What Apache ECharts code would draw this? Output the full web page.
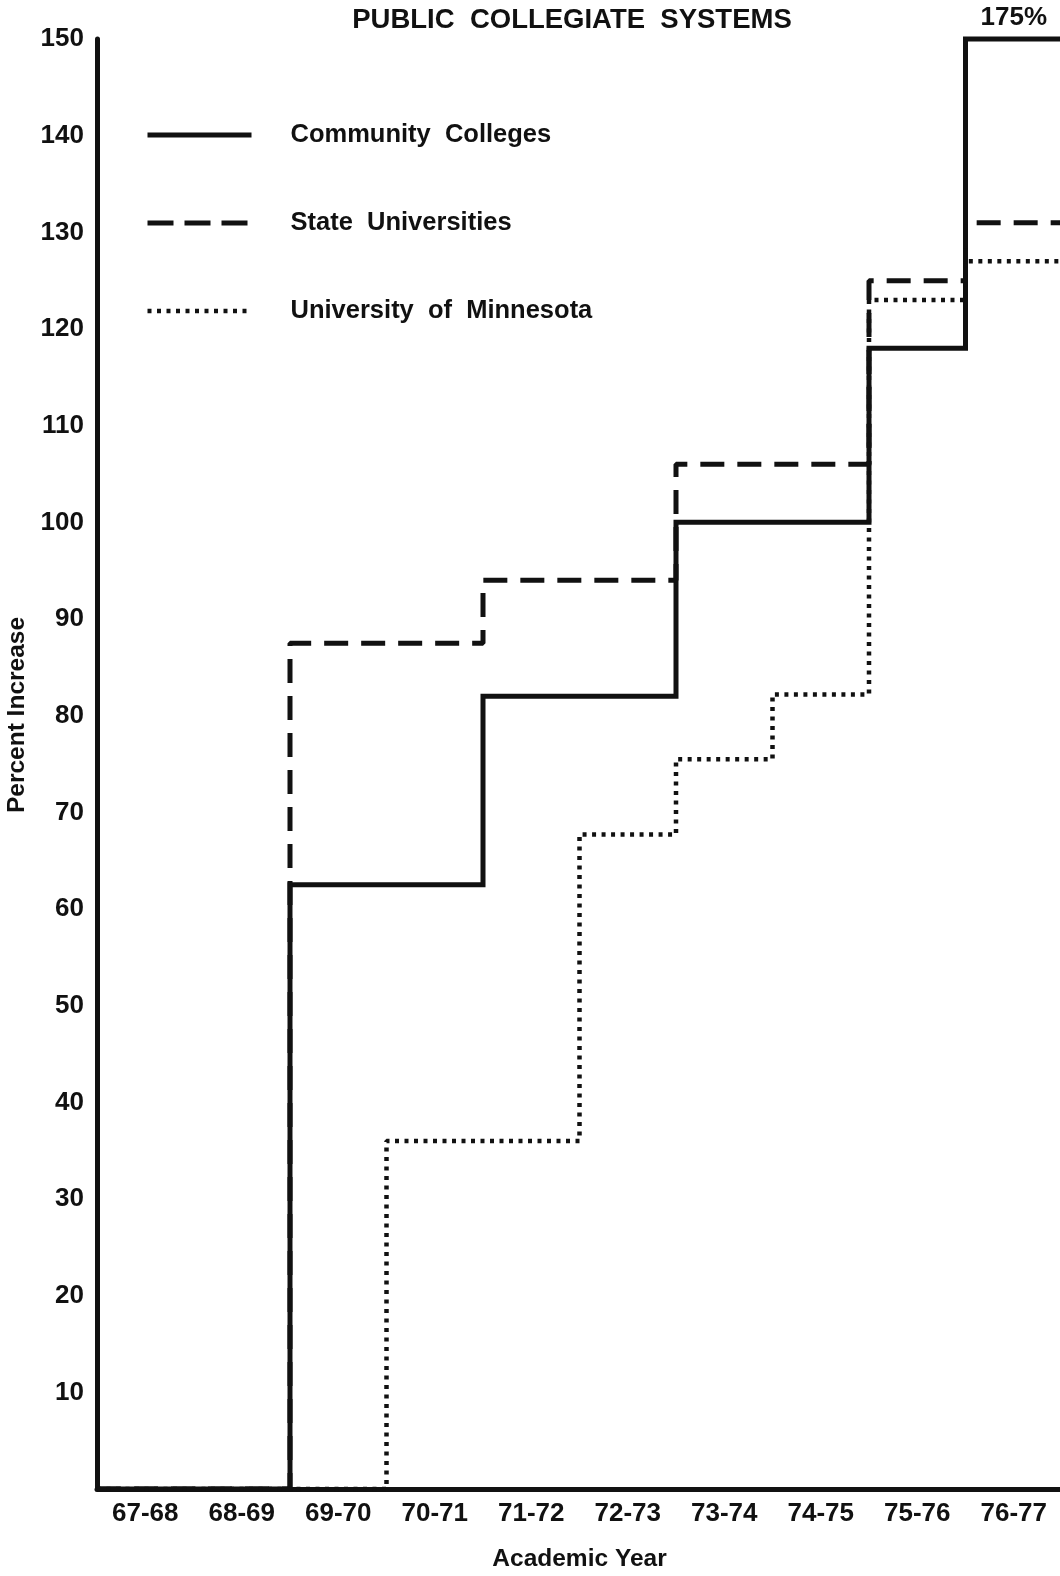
<!DOCTYPE html>
<html>
<head>
<meta charset="utf-8">
<script src="https://cdn.jsdelivr.net/npm/echarts@6/dist/echarts.min.js"></script>
<style>
  html, body { margin: 0; padding: 0; background: #fff; }
  #chart { width: 1060px; height: 1576px; }
</style>
</head>
<body>
<div id="chart"></div>
<script>
  // academic years on the x axis
  var years = ['67-68', '68-69', '69-70', '70-71', '71-72', '72-73', '73-74', '74-75', '75-76', '76-77'];
  // percent increase per year
  var communityColleges = [0, 0, 62.5, 62.5, 82, 82, 100, 100, 118, 175];
  var stateUniversities = [0, 0, 87.5, 87.5, 94, 94, 106, 106, 125, 131];
  var univMinnesota = [0, 0, 0, 36, 36, 67.7, 75.5, 82.2, 123, 127];
  var yTicks = [10, 20, 30, 40, 50, 60, 70, 80, 90, 100, 110, 120, 130, 140, 150];

  var yMax = 150;
  var ink = '#111';
  var font = '"Liberation Sans", Arial, sans-serif';

  var solidStyle = { color: ink, width: 5, type: 'solid', join: 'miter' };
  var dashStyle = { color: ink, width: 5, type: [24, 13] };
  var dotStyle = { color: ink, width: 4.5, type: [4, 5.5] };

  // each year fills its band [i, i+1]; values above the axis top are drawn at the top
  function stepData(vals) {
    var pts = [];
    for (var i = 0; i < vals.length; i++) {
      pts.push([i, Math.min(vals[i], yMax)]);
    }
    pts.push([vals.length, Math.min(vals[vals.length - 1], yMax)]);
    return pts;
  }

  var myChart = echarts.init(document.getElementById('chart'));

  var option = {
    backgroundColor: '#fff',
    animation: false,
    title: {
      text: 'PUBLIC  COLLEGIATE  SYSTEMS',
      left: 567,
      top: 1,
      textAlign: 'center',
      textStyle: { fontFamily: font, fontSize: 27.5, fontWeight: 'bold', color: ink }
    },
    legend: {
      orient: 'vertical',
      left: 140,
      top: 117,
      itemWidth: 104,
      itemHeight: 26,
      itemGap: 62,
      itemStyle: { opacity: 0 },
      textStyle: {
        fontFamily: font, fontSize: 25.5, fontWeight: 'bold', color: ink,
        padding: [0, 0, 0, 34]
      },
      data: [
        { name: 'Community  Colleges', lineStyle: solidStyle },
        { name: 'State  Universities', lineStyle: { color: ink, width: 5, type: [26, 11] } },
        { name: 'University  of  Minnesota', lineStyle: dotStyle }
      ]
    },
    grid: { left: 97, top: 39, width: 965, bottom: 87, outerBoundsMode: 'none' },
    xAxis: {
      type: 'value',
      min: 0,
      max: years.length,
      interval: 0.5,
      name: 'Academic Year',
      nameLocation: 'middle',
      nameGap: 58,
      nameTextStyle: { fontFamily: font, fontSize: 24.5, fontWeight: 'bold', color: ink },
      axisLine: { show: true, onZero: false, lineStyle: { color: ink, width: 5 } },
      axisTick: { show: false },
      splitLine: { show: false },
      axisLabel: {
        margin: 12,
        fontFamily: font, fontSize: 26, fontWeight: 'bold', color: ink,
        formatter: function (v) {
          var k = Math.floor(v);
          return (v - k) === 0.5 ? years[k] : '';
        }
      }
    },
    yAxis: {
      type: 'value',
      min: 0,
      max: yMax,
      interval: yTicks[1] - yTicks[0],
      name: 'Percent Increase',
      nameLocation: 'middle',
      nameGap: 48,
      nameTextStyle: { fontFamily: font, fontSize: 24.5, fontWeight: 'bold', color: ink, padding: [0, 0, 0, 98] },
      axisLine: { show: true, lineStyle: { color: ink, width: 5 } },
      axisTick: { show: false },
      splitLine: { show: false },
      axisLabel: {
        margin: 13,
        fontFamily: font, fontSize: 26, fontWeight: 'bold', color: ink,
        formatter: function (v) { return yTicks.indexOf(v) >= 0 ? v : ''; }
      }
    },
    series: [
      {
        name: 'Community  Colleges',
        type: 'line',
        step: 'end',
        symbol: 'none',
        clip: false,
        data: stepData(communityColleges),
        lineStyle: solidStyle,
        itemStyle: { color: ink },
        markPoint: {
          symbol: 'circle',
          symbolSize: 0,
          data: [{ coord: [years.length - 0.5, Math.min(communityColleges[9], yMax)] }],
          label: {
            show: true, position: 'top', distance: 8,
            fontFamily: font, fontSize: 26, fontWeight: 'bold', color: ink,
            formatter: communityColleges[9] + '%'
          }
        }
      },
      {
        name: 'State  Universities',
        type: 'line',
        step: 'end',
        symbol: 'none',
        clip: false,
        data: stepData(stateUniversities),
        lineStyle: dashStyle,
        itemStyle: { color: ink }
      },
      {
        name: 'University  of  Minnesota',
        type: 'line',
        step: 'end',
        symbol: 'none',
        clip: false,
        data: stepData(univMinnesota),
        lineStyle: dotStyle,
        itemStyle: { color: ink }
      }
    ]
  };

  option && myChart.setOption(option);
</script>
</body>
</html>
